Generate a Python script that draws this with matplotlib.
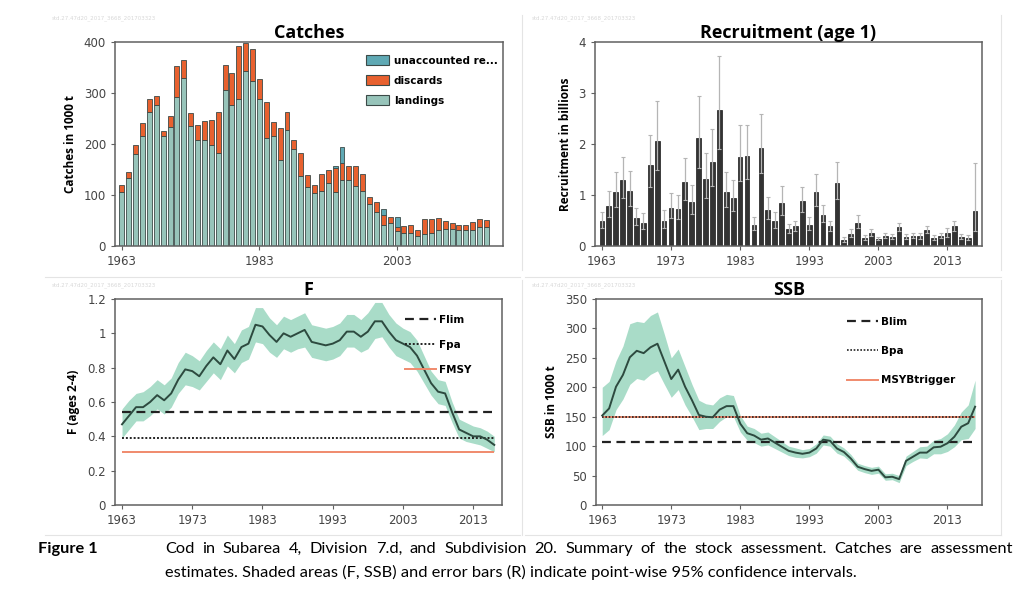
"""Stock assessment summary: catches, recruitment, F and SSB."""

import numpy as np
import matplotlib
matplotlib.use("Agg")
import matplotlib.pyplot as plt
from matplotlib.patches import Patch
from matplotlib.lines import Line2D

W, H = 1024, 590

# Catches in 1000 t, 1963-2016
catch_years = np.arange(1963, 2017)
landings = [105, 134, 180, 215, 262, 277, 216, 233, 292, 329,
            235, 207, 208, 199, 182, 305, 277, 288, 344, 323,
            288, 212, 215, 169, 227, 190, 137, 116, 103, 107,
            124, 105, 129, 129, 117, 107, 82, 66, 42, 45,
            29, 26, 26, 20, 23, 25, 32, 34, 33, 31,
            31, 32, 37, 37]
discards = [14, 11, 19, 27, 26, 17, 9, 21, 61, 36,
            26, 30, 38, 49, 81, 50, 62, 105, 55, 63,
            39, 70, 29, 62, 36, 18, 45, 24, 16, 34,
            26, 48, 34, 28, 40, 34, 15, 20, 18, 12,
            8, 13, 15, 12, 30, 27, 22, 15, 12, 10,
            11, 16, 15, 14]
unaccounted = [0, 0, 0, 0, 0, 0, 0, 0, 0, 0,
               0, 0, 0, 0, 0, 0, 0, 0, 0, 0,
               0, 0, 0, 0, 0, 0, 0, 0, 0, 0,
               0, 3, 31, 0, 0, 0, 0, 0, 13, 0,
               19, 0, 0, 0, 0, 0, 0, 0, 0, 0,
               0, 0, 0, 0]

# Recruitment (age 1) in billions, 1963-2017
rec_years = np.arange(1963, 2018)
rec = [0.49, 0.78, 1.05, 1.29, 1.07, 0.55, 0.46, 1.58, 2.06, 0.50,
       0.75, 0.73, 1.25, 0.86, 2.12, 1.31, 1.65, 2.66, 1.05, 0.94,
       1.74, 1.76, 0.42, 1.92, 0.71, 0.49, 0.85, 0.33, 0.39, 0.88,
       0.42, 1.05, 0.61, 0.39, 1.24, 0.12, 0.24, 0.46, 0.16, 0.25,
       0.14, 0.20, 0.18, 0.37, 0.17, 0.20, 0.19, 0.31, 0.15, 0.20,
       0.25, 0.39, 0.18, 0.16, 0.69]
rec_hi = [0.67, 1.08, 1.46, 1.75, 1.47, 0.74, 0.65, 2.18, 2.84, 0.71,
          1.03, 1.00, 1.73, 1.20, 2.95, 1.82, 2.30, 3.73, 1.46, 1.29,
          2.37, 2.37, 0.56, 2.58, 0.96, 0.66, 1.18, 0.44, 0.50, 1.16,
          0.56, 1.41, 0.80, 0.50, 1.65, 0.17, 0.33, 0.60, 0.22, 0.33,
          0.18, 0.26, 0.23, 0.46, 0.23, 0.26, 0.25, 0.39, 0.21, 0.26,
          0.35, 0.50, 0.24, 0.22, 1.62]
rec_lo = [0.36, 0.56, 0.76, 0.95, 0.78, 0.41, 0.33, 1.15, 1.49, 0.35,
          0.55, 0.53, 0.90, 0.62, 1.52, 0.94, 1.18, 1.90, 0.76, 0.68,
          1.28, 1.31, 0.31, 1.43, 0.52, 0.36, 0.61, 0.25, 0.30, 0.67,
          0.31, 0.78, 0.47, 0.30, 0.93, 0.08, 0.17, 0.35, 0.12, 0.19,
          0.11, 0.15, 0.14, 0.30, 0.13, 0.15, 0.14, 0.25, 0.11, 0.15,
          0.18, 0.30, 0.13, 0.12, 0.29]

# Fishing mortality (ages 2-4), 1963-2016
f_years = np.arange(1963, 2017)
f_val = [0.47, 0.52, 0.57, 0.57, 0.60, 0.64, 0.61, 0.65, 0.73, 0.79,
         0.78, 0.75, 0.81, 0.86, 0.82, 0.90, 0.85, 0.92, 0.94, 1.05,
         1.04, 0.99, 0.95, 1.00, 0.98, 1.00, 1.02, 0.95, 0.94, 0.93,
         0.94, 0.96, 1.01, 1.01, 0.98, 1.01, 1.07, 1.07, 1.01, 0.96,
         0.94, 0.92, 0.87, 0.79, 0.71, 0.66, 0.65, 0.54, 0.44, 0.42,
         0.40, 0.40, 0.38, 0.35]
f_hi = [0.56, 0.61, 0.65, 0.66, 0.69, 0.73, 0.70, 0.74, 0.83, 0.89,
        0.87, 0.84, 0.90, 0.95, 0.91, 0.99, 0.94, 1.02, 1.04, 1.15,
        1.15, 1.09, 1.05, 1.10, 1.08, 1.10, 1.12, 1.05, 1.04, 1.03,
        1.04, 1.06, 1.11, 1.11, 1.08, 1.12, 1.18, 1.18, 1.11, 1.06,
        1.03, 1.01, 0.96, 0.87, 0.78, 0.73, 0.72, 0.60, 0.50, 0.48,
        0.46, 0.45, 0.43, 0.40]
f_lo = [0.39, 0.44, 0.49, 0.49, 0.52, 0.56, 0.53, 0.57, 0.65, 0.70,
        0.69, 0.67, 0.72, 0.77, 0.73, 0.81, 0.77, 0.83, 0.85, 0.95,
        0.94, 0.89, 0.86, 0.91, 0.89, 0.91, 0.92, 0.86, 0.85, 0.84,
        0.85, 0.87, 0.92, 0.92, 0.89, 0.91, 0.97, 0.98, 0.92, 0.87,
        0.85, 0.83, 0.78, 0.71, 0.64, 0.59, 0.58, 0.48, 0.39, 0.37,
        0.36, 0.35, 0.33, 0.31]
f_lim, f_pa, f_msy = 0.54, 0.39, 0.31

# SSB in 1000 t, 1963-2017
ssb_years = np.arange(1963, 2018)
ssb = [152, 164, 201, 221, 251, 262, 258, 268, 274, 244,
       214, 230, 201, 178, 153, 150, 149, 162, 168, 168,
       138, 122, 118, 111, 113, 106, 99, 92, 89, 87,
       89, 96, 111, 109, 96, 90, 79, 65, 61, 58,
       60, 47, 48, 44, 75, 82, 89, 89, 98, 99,
       105, 116, 133, 139, 167]
ssb_hi = [200, 210, 245, 270, 308, 312, 310, 322, 328, 290,
          250, 265, 235, 205, 178, 172, 170, 182, 188, 186,
          152, 134, 130, 122, 124, 116, 108, 100, 97, 94,
          96, 104, 119, 117, 104, 97, 86, 71, 67, 64,
          66, 53, 54, 50, 83, 91, 99, 100, 110, 113,
          121, 136, 158, 170, 212]
ssb_lo = [118, 128, 162, 180, 205, 215, 212, 222, 228, 205,
          183, 196, 170, 150, 128, 130, 130, 142, 150, 150,
          124, 110, 106, 100, 102, 96, 90, 84, 81, 80,
          82, 88, 102, 100, 88, 83, 72, 59, 55, 52,
          54, 42, 43, 38, 67, 74, 80, 79, 87, 87,
          91, 99, 111, 113, 130]
b_lim, b_pa, msy_btrigger = 107, 150, 150

caption_1 = ("Cod in Subarea 4, Division 7.d, and Subdivision 20. Summary of the "
             "stock assessment. Catches are assessment")
caption_2 = ("estimates. Shaded areas (F, SSB) and error bars (R) indicate "
             "point-wise 95% confidence intervals.")

C_LAND = "#97c4ba"
C_DISC = "#e8612f"
C_UNAC = "#5fa9b4"
C_BAND = "#a9dcc8"
C_LINE = "#2d4a3f"
C_REF = "#f08a6c"
TICK_C = "#444444"


def px_rect(left, top, right, bottom):
    return [left / W, 1 - bottom / H, (right - left) / W, (bottom - top) / H]


def style_axes(ax, title, ylabel):
    for s in ax.spines.values():
        s.set_color("#606060")
        s.set_linewidth(1.1)
    ax.tick_params(direction="out", length=3, width=0.8, colors="#606060",
                   labelcolor=TICK_C, labelsize=8.5)
    ax.set_title(title, fontsize=13, fontweight="bold", family="Open Sans",
                 pad=3)
    ax.set_ylabel(ylabel, fontsize=8.5, fontweight="bold", family="Open Sans",
                  labelpad=5)


fig = plt.figure(figsize=(W / 100, H / 100), dpi=100)

# faint panel frames
for x0, x1, y in [(45, 520, 277), (525, 1001, 277), (45, 520, 535),
                  (525, 1001, 535)]:
    fig.add_artist(Line2D([x0 / W, x1 / W], [1 - y / H, 1 - y / H],
                          color="#e4e4e4", lw=0.8))
for x, y0, y1 in [(522, 15, 270), (1001, 15, 270), (522, 280, 535),
                  (1001, 280, 535)]:
    fig.add_artist(Line2D([x / W, x / W], [1 - y0 / H, 1 - y1 / H],
                          color="#e4e4e4", lw=0.8))

# Catches
ax1 = fig.add_axes(px_rect(115, 42, 503, 246))
land = np.array(landings)
disc = np.array(discards)
unac = np.array(unaccounted)
bw = 0.72
ax1.bar(catch_years, land, width=bw, color=C_LAND, edgecolor="#3c4a48", lw=0.6)
ax1.bar(catch_years, disc, width=bw, bottom=land, color=C_DISC,
        edgecolor="#3c4a48", lw=0.6)
mask = unac > 0
ax1.bar(catch_years[mask], unac[mask], width=bw, bottom=(land + disc)[mask],
        color=C_UNAC, edgecolor="#3c4a48", lw=0.6)
ax1.set_xlim(1962.0, 2018.4)
ax1.set_ylim(0, 400)
ax1.set_xticks([1963, 1983, 2003])
ax1.set_yticks([0, 100, 200, 300, 400])
style_axes(ax1, "Catches", "Catches in 1000 t")
handles = [Patch(facecolor=C_UNAC, edgecolor="#3c4a48", lw=0.8),
           Patch(facecolor=C_DISC, edgecolor="#3c4a48", lw=0.8),
           Patch(facecolor=C_LAND, edgecolor="#3c4a48", lw=0.8)]
ax1.legend(handles, ["unaccounted re...", "discards", "landings"],
           loc="upper right", bbox_to_anchor=(1.01, 0.98), frameon=False,
           prop={"weight": "bold", "size": 7.5}, handlelength=2.3,
           handleheight=1.1, labelspacing=0.9, handletextpad=0.4)

# Recruitment
ax2 = fig.add_axes(px_rect(595, 42, 982, 246))
r = np.array(rec)
ax2.bar(rec_years, r, width=0.68, color="#333333", edgecolor="#1a1a1a", lw=0.5)
ax2.errorbar(rec_years, r, yerr=[r - np.array(rec_lo), np.array(rec_hi) - r],
             fmt="none", ecolor="#b5b5b5", elinewidth=0.9, capsize=1.5,
             capthick=0.8)
ax2.set_xlim(1962.0, 2018.0)
ax2.set_ylim(0, 4)
ax2.set_xticks(np.arange(1963, 2014, 10))
ax2.set_yticks([0, 1, 2, 3, 4])
style_axes(ax2, "Recruitment (age 1)", "Recruitment in billions")

# F
ax3 = fig.add_axes(px_rect(115, 299, 502, 505))
ax3.fill_between(f_years, f_lo, f_hi, color=C_BAND, lw=0)
ax3.hlines(f_msy, f_years[0], f_years[-1], color=C_REF, lw=1.4)
ax3.hlines(f_lim, f_years[0], f_years[-1], color="#222222", lw=1.6,
           linestyles=(0, (4, 2.5)))
ax3.hlines(f_pa, f_years[0], f_years[-1], color="#222222", lw=1.4,
           linestyles=(0, (1, 1)))
ax3.plot(f_years, f_val, color=C_LINE, lw=1.4)
ax3.set_xlim(1962.0, 2017.1)
ax3.set_ylim(0, 1.2)
ax3.set_xticks(np.arange(1963, 2014, 10))
ax3.set_yticks([0, 0.2, 0.4, 0.6, 0.8, 1.0, 1.2])
ax3.set_yticklabels(["0", "0.2", "0.4", "0.6", "0.8", "1", "1.2"])
style_axes(ax3, "F", "F (ages 2-4)")
h3 = [Line2D([], [], color="#222222", lw=1.6, ls=(0, (4, 2.5))),
      Line2D([], [], color="#222222", lw=1.4, ls=(0, (1, 1))),
      Line2D([], [], color=C_REF, lw=1.4)]
ax3.legend(h3, ["Flim", "Fpa", "FMSY"], loc="upper right",
           bbox_to_anchor=(0.945, 0.97), frameon=False,
           prop={"weight": "bold", "size": 7.5}, handlelength=3.0,
           labelspacing=1.45, handletextpad=0.3)

# SSB
ax4 = fig.add_axes(px_rect(596, 299, 982, 505))
ax4.fill_between(ssb_years, ssb_lo, ssb_hi, color=C_BAND, lw=0)
ax4.hlines(msy_btrigger, ssb_years[0], ssb_years[-1], color=C_REF, lw=1.4)
ax4.hlines(b_lim, ssb_years[0], ssb_years[-1], color="#222222", lw=1.6,
           linestyles=(0, (4, 2.5)))
ax4.hlines(b_pa, ssb_years[0], ssb_years[-1], color="#222222", lw=1.2,
           linestyles=(0, (1, 1)))
ax4.plot(ssb_years, ssb, color=C_LINE, lw=1.4)
ax4.set_xlim(1962.1, 2018.0)
ax4.set_ylim(0, 350)
ax4.set_xticks(np.arange(1963, 2014, 10))
ax4.set_yticks(np.arange(0, 351, 50))
style_axes(ax4, "SSB", "SSB in 1000 t")
h4 = [Line2D([], [], color="#222222", lw=1.6, ls=(0, (4, 2.5))),
      Line2D([], [], color="#222222", lw=1.2, ls=(0, (1, 1))),
      Line2D([], [], color=C_REF, lw=1.4)]
ax4.legend(h4, ["Blim", "Bpa", "MSYBtrigger"], loc="upper right",
           bbox_to_anchor=(0.955, 0.96), frameon=False,
           prop={"weight": "bold", "size": 7.5}, handlelength=3.0,
           labelspacing=1.85, handletextpad=0.3)

# faint stock-code watermark in each panel
for x, y in [(52, 18), (532, 18), (52, 285), (532, 285)]:
    fig.text(x / W, 1 - y / H, "std.27.47d20_2017_3668_201703323",
             fontsize=4, color="#d8d8d8", va="center")

# caption
fig.text(38 / W, 1 - 549 / H, "Figure 1", fontsize=11.8, fontweight="bold",
         family="Lato", va="center")
words = caption_1.split()
texts = [fig.text(0, 1 - 549 / H, w, fontsize=11.8, family="Lato",
                  va="center") for w in words]
rend = fig.canvas.get_renderer()
widths = [t.get_window_extent(rend).width for t in texts]
gap = (1013 - 165 - sum(widths)) / (len(words) - 1)
x = 165
for t, w in zip(texts, widths):
    t.set_x(x / W)
    x += w + gap
fig.text(165 / W, 1 - 572 / H, caption_2, fontsize=11.8, family="Lato",
         va="center")

fig.savefig("out.png", dpi=100)
